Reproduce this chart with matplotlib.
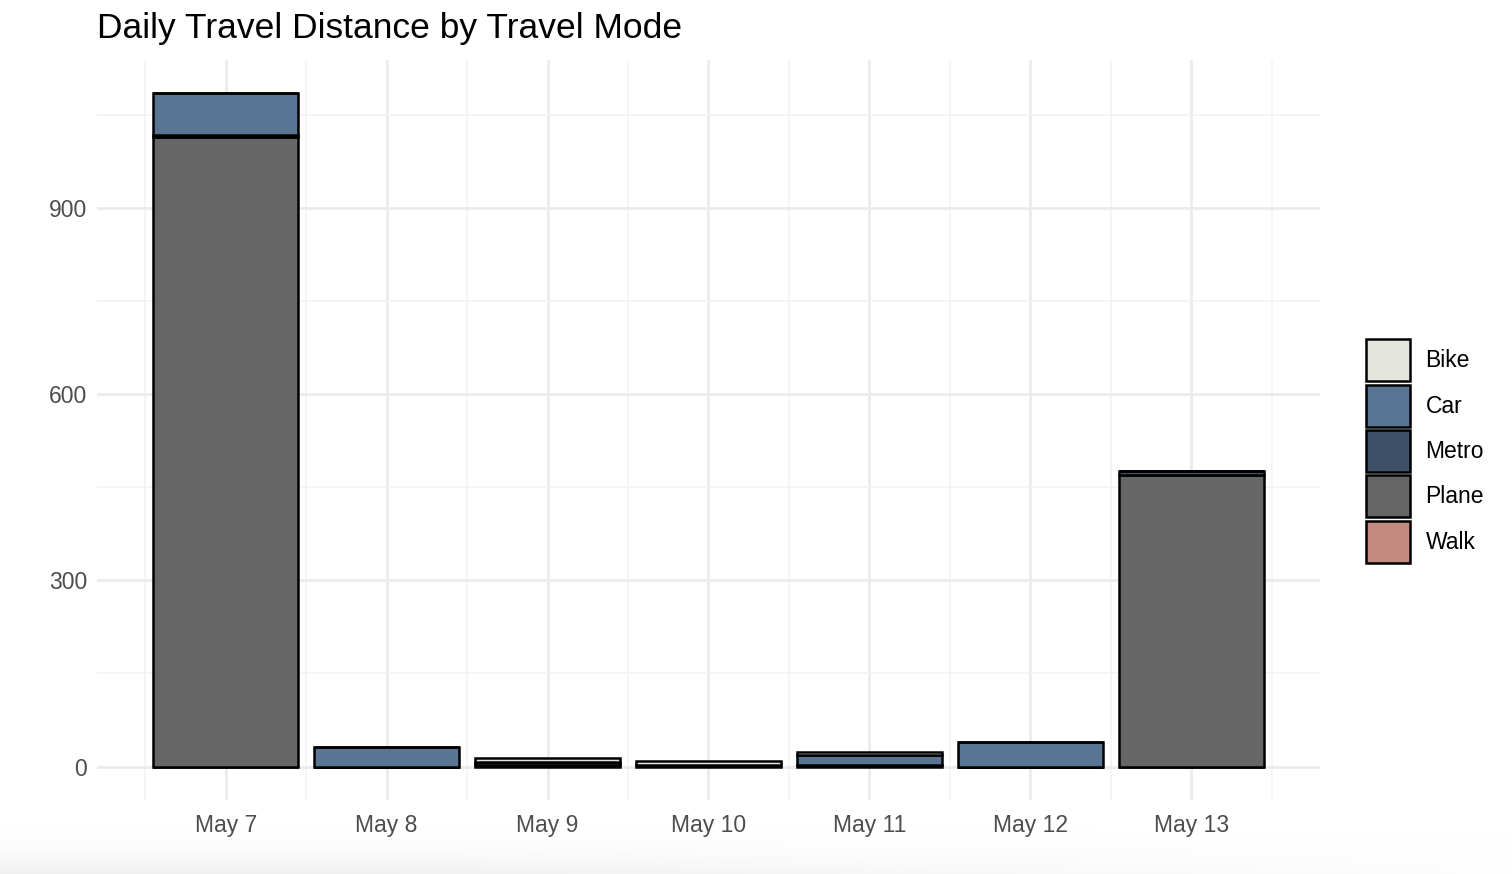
import numpy as np
import matplotlib
matplotlib.use("Agg")
import matplotlib.pyplot as plt
from matplotlib.patches import Patch

plt.rcParams['font.family'] = ['Liberation Sans', 'DejaVu Sans']

days = ["May 7", "May 8", "May 9", "May 10", "May 11", "May 12", "May 13"]
modes = ["Bike", "Car", "Metro", "Plane", "Walk"]
bike = [0, 0, 6, 7, 5, 0, 0]
car = [67, 32, 0, 0, 16, 40, 0]
metro = [3, 0, 5, 0, 0, 0, 6]
plane = [1015, 0, 0, 0, 0, 0, 470]
walk = [0, 0, 3, 2, 3, 0, 0]
colors = {"Bike": "#E5E5E0", "Car": "#5A7594", "Metro": "#3D5068",
          "Plane": "#666666", "Walk": "#C48A80"}

series = {"Bike": bike, "Car": car, "Metro": metro, "Plane": plane, "Walk": walk}

fig = plt.figure(figsize=(15.12, 8.74), dpi=100)
ax = fig.add_axes([97/1512, 1-800/874, (1320-97)/1512, (800-60)/874])

x = np.arange(len(days))
# ggplot stacks first level on top: draw from bottom (Walk) upward
bottom = np.zeros(len(days))
for m in reversed(modes):
    vals = np.array(series[m], dtype=float)
    ax.bar(x, vals, bottom=bottom, width=0.9, color=colors[m],
           edgecolor="black", linewidth=1.8, zorder=3)
    bottom += vals

ax.set_xlim(-0.8, 6.8)
ax.set_ylim(-54, 1139)
ax.set_xticks(x)
ax.set_xticklabels(days)
ax.set_yticks([0, 300, 600, 900])
ax.set_xticks(np.arange(-0.5, 7, 1), minor=True)
ax.set_yticks([150, 450, 750, 1050], minor=True)
ax.grid(which="major", color="#EBEBEB", linewidth=2.0, zorder=0)
ax.grid(which="minor", color="#F3F3F3", linewidth=1.2, zorder=0)
for s in ax.spines.values():
    s.set_visible(False)
ax.tick_params(which="both", length=0, labelsize=16.5, labelcolor="#4D4D4D")
ax.tick_params(axis="x", pad=10)
ax.tick_params(axis="y", pad=7)

ax.set_title("Daily Travel Distance by Travel Mode", loc="left", fontsize=25.5,
             color="black", x=0, y=1.0, pad=16)

handles = [Patch(facecolor=colors[m], edgecolor="black", linewidth=1.8, label=m)
           for m in modes]
fig.legend(handles=handles, loc="center left", bbox_to_anchor=(1366/1512, 1-451/874),
           frameon=False, fontsize=16.5, handlelength=1.9, handleheight=2.45,
           labelspacing=0.14, handletextpad=0.7, borderaxespad=0, borderpad=0)

# light shading at the bottom of the screenshot
grad = np.linspace(0, 1, 100).reshape(-1, 1)
gx = np.linspace(0, 1, 300).reshape(1, -1)
alpha = (grad ** 2) * np.clip(1.3 - gx * 1.2, 0, 1)
img = np.zeros((100, 300, 4))
img[..., :3] = 0.93
img[..., 3] = alpha * 0.8
bax = fig.add_axes([0, 0, 1, 50/874], zorder=-1)
bax.imshow(img, aspect="auto", extent=(0, 1, 0, 1), origin="upper")
bax.axis("off")

fig.savefig("out.png", dpi=100)
